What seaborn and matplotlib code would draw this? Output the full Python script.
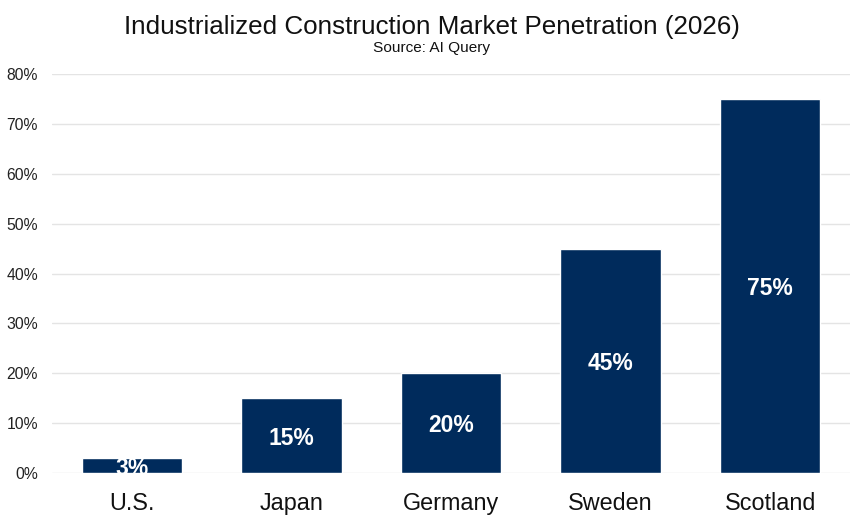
import matplotlib
matplotlib.use("Agg")
import matplotlib.pyplot as plt
import seaborn as sns
import pandas as pd

countries = ['U.S.', 'Japan', 'Germany', 'Sweden', 'Scotland']
penetration = [3, 15, 20, 45, 75]
y_ticks = [0, 10, 20, 30, 40, 50, 60, 70, 80]

df = pd.DataFrame({'country': countries, 'pct': penetration})

sns.set_style('white')
plt.rcParams['font.family'] = ['Liberation Sans', 'DejaVu Sans']

fig = plt.figure(figsize=(8.66, 5.25), dpi=100)
ax = fig.add_axes([52 / 866, 1 - 473 / 525, 798 / 866, 399 / 525])

sns.barplot(data=df, x='country', y='pct', color='#002b5c', width=0.63,
            saturation=1, ax=ax, zorder=3)

# labels in the middle of each bar
for i, v in enumerate(penetration):
    ax.text(i, v / 2, f'{v}%', ha='center', va='center_baseline', color='white',
            fontsize=16.5, fontweight='bold', zorder=4, clip_on=True)

ax.set_xlim(-0.5, 4.5)
ax.set_ylim(0, 80)
ax.set_yticks(y_ticks)
ax.set_yticklabels([f'{t}%' for t in y_ticks], fontsize=11.3, color='#222222')
ax.tick_params(axis='x', labelsize=16.8, length=0, pad=14, colors='#111111')
ax.tick_params(axis='y', length=0, pad=10)
ax.grid(axis='y', color='#e4e4e4', linewidth=1, zorder=0)
ax.set_xlabel('')
ax.set_ylabel('')
for s in ax.spines.values():
    s.set_visible(False)

fig.text(432 / 866, 1 - 27 / 525, 'Industrialized Construction Market Penetration (2026)',
         ha='center', va='center', fontsize=18.7, color='#111111')
fig.text(432 / 866, 1 - 48 / 525, 'Source: AI Query', ha='center', va='center',
         fontsize=11.1, color='#111111')

fig.savefig('out.png', dpi=100)
